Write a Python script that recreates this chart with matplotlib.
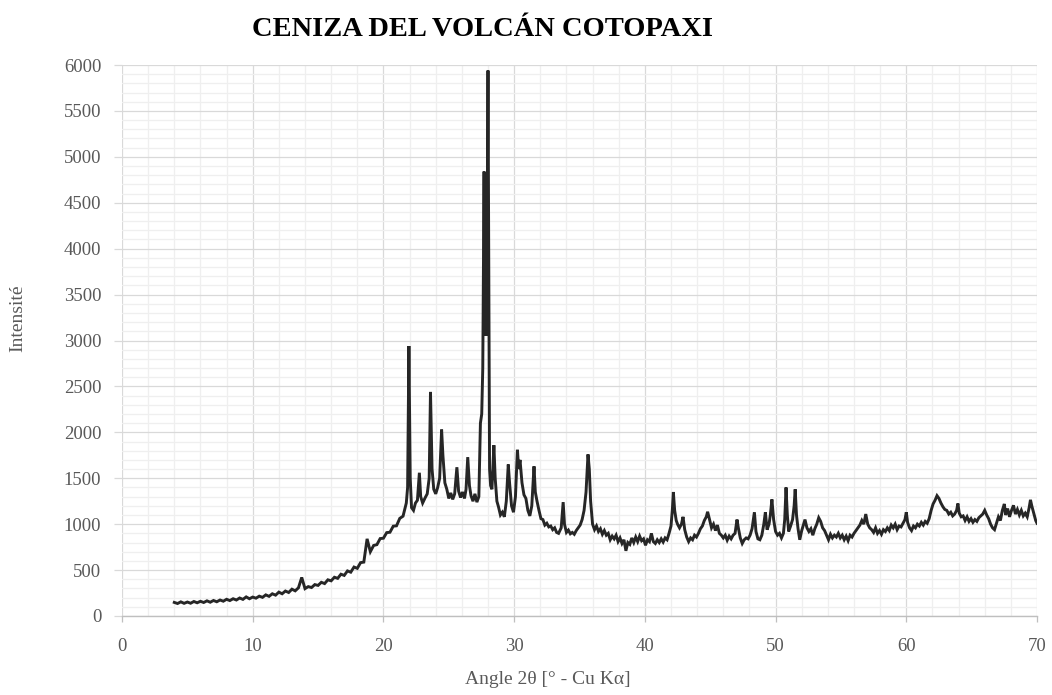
#!/usr/bin/env python3
"""XRD pattern of Cotopaxi volcanic ash (2theta, Cu K-alpha)."""

import matplotlib.pyplot as plt
from matplotlib.ticker import MultipleLocator

# (2theta, counts), split by region
low_angle = [
    (4.00, 148), (4.25, 136), (4.50, 154), (4.75, 138), (5.00, 152), (5.25, 139),
    (5.50, 158), (5.75, 144), (6.00, 160), (6.25, 147), (6.50, 165), (6.75, 150),
    (7.00, 169), (7.25, 155), (7.50, 174), (7.75, 161), (8.00, 182), (8.25, 168),
    (8.50, 188), (8.75, 174), (9.00, 196), (9.25, 181), (9.50, 208), (9.75, 188),
    (10.00, 206), (10.25, 194), (10.50, 216), (10.75, 203), (11.00, 230), (11.25, 214),
    (11.50, 242), (11.75, 227), (12.00, 260), (12.25, 242), (12.50, 272), (12.75, 256),
    (13.00, 292), (13.25, 274), (13.50, 307), (13.75, 420), (14.00, 298), (14.25, 320),
    (14.50, 310), (14.75, 342), (15.00, 333), (15.25, 367), (15.50, 353), (15.75, 394),
    (16.00, 383), (16.25, 422), (16.50, 410), (16.75, 455), (17.00, 442), (17.25, 491),
    (17.50, 477), (17.75, 533), (18.00, 519), (18.25, 581), (18.50, 587), (18.75, 840),
    (19.00, 700), (19.25, 768), (19.50, 777), (19.75, 843), (20.00, 847), (20.25, 908),
    (20.50, 912), (20.75, 978), (21.00, 982), (21.25, 1063), (21.50, 1087), (21.75, 1230),
]

main_peaks = [
    (21.85, 1400), (21.95, 2940), (22.05, 1500), (22.15, 1180), (22.30, 1150), (22.45, 1230),
    (22.60, 1260), (22.75, 1560), (22.85, 1300), (23.00, 1230), (23.20, 1290), (23.35, 1330),
    (23.50, 1500), (23.60, 2440), (23.72, 1600), (23.85, 1380), (24.00, 1330), (24.15, 1400),
    (24.30, 1500), (24.45, 2030), (24.55, 1750), (24.70, 1450), (24.85, 1380), (25.00, 1280),
    (25.15, 1340), (25.30, 1270), (25.45, 1330), (25.62, 1620), (25.75, 1360), (25.90, 1290),
    (26.05, 1350), (26.20, 1280), (26.32, 1380), (26.45, 1730), (26.58, 1420), (26.70, 1310),
    (26.85, 1250), (27.00, 1330), (27.15, 1240), (27.30, 1300), (27.42, 2100), (27.52, 2200),
    (27.60, 2700), (27.70, 4840), (27.75, 3200), (27.80, 4550), (27.85, 3050), (27.90, 3600),
    (27.95, 4500), (28.00, 5940), (28.07, 3400), (28.12, 1600), (28.20, 1420), (28.30, 1380),
    (28.45, 1860), (28.55, 1500), (28.68, 1250), (28.80, 1190), (28.95, 1100), (29.10, 1130),
    (29.25, 1080), (29.40, 1250), (29.55, 1650), (29.65, 1450), (29.80, 1200), (29.95, 1130),
    (30.10, 1300), (30.25, 1810), (30.35, 1600), (30.45, 1700), (30.60, 1450), (30.75, 1320),
    (30.90, 1280), (31.05, 1150), (31.20, 1090), (31.35, 1200), (31.52, 1630), (31.62, 1350),
    (31.75, 1250), (31.90, 1150), (32.05, 1060), (32.20, 1050), (32.35, 990), (32.50, 1010),
    (32.65, 970), (32.80, 980), (32.95, 940), (33.10, 960), (33.25, 910), (33.40, 900),
    (33.60, 960), (33.75, 1240), (33.85, 1000), (34.00, 910), (34.15, 935), (34.30, 895),
    (34.45, 910), (34.60, 890), (34.75, 930), (34.90, 960), (35.05, 990), (35.20, 1050),
    (35.35, 1150), (35.50, 1350), (35.65, 1760), (35.75, 1600), (35.85, 1250), (36.00, 1000),
]

mid_angle = [
    (36.15, 940), (36.30, 980), (36.45, 920), (36.60, 950), (36.75, 890), (36.90, 930),
    (37.05, 880), (37.20, 900), (37.35, 830), (37.50, 870), (37.65, 840), (37.80, 880),
    (37.95, 810), (38.10, 850), (38.25, 790), (38.40, 830), (38.55, 710), (38.70, 800),
    (38.85, 780), (39.00, 850), (39.15, 800), (39.30, 860), (39.45, 810), (39.60, 870),
    (39.75, 820), (39.90, 840), (40.05, 770), (40.20, 830), (40.35, 810), (40.50, 900),
    (40.65, 810), (40.80, 790), (40.95, 830), (41.10, 800), (41.25, 840), (41.40, 805),
    (41.55, 850), (41.70, 830), (41.85, 900), (42.00, 980), (42.10, 1150), (42.18, 1350),
    (42.28, 1150), (42.40, 1040), (42.50, 1000), (42.65, 960), (42.80, 1000), (42.92, 1080),
    (43.05, 940), (43.20, 860), (43.35, 810), (43.50, 850), (43.65, 830), (43.80, 880),
    (43.95, 860), (44.10, 900), (44.25, 950), (44.40, 980), (44.55, 1040), (44.70, 1080),
    (44.80, 1135), (44.95, 1050), (45.10, 960), (45.25, 1000), (45.40, 930), (45.55, 990),
    (45.70, 900), (45.85, 880), (46.00, 850), (46.15, 880), (46.30, 825), (46.45, 870),
    (46.60, 840), (46.75, 880), (46.90, 900), (47.05, 1050), (47.15, 960), (47.30, 850),
    (47.45, 790), (47.60, 830), (47.75, 850), (47.90, 840), (48.05, 880), (48.20, 950),
    (48.38, 1130), (48.50, 920), (48.65, 840), (48.80, 830), (48.95, 880), (49.10, 1000),
    (49.22, 1130), (49.35, 940), (49.50, 1000), (49.60, 1100), (49.72, 1270), (49.85, 1050),
    (50.00, 920), (50.15, 880), (50.30, 900), (50.45, 850), (50.60, 900), (50.70, 1050),
    (50.80, 1400), (50.90, 1100), (51.00, 920), (51.15, 980), (51.30, 1050), (51.42, 1200),
    (51.50, 1380), (51.60, 1100), (51.72, 950), (51.85, 830), (52.00, 930), (52.15, 1000),
    (52.25, 1050), (52.40, 960), (52.55, 920), (52.70, 950), (52.85, 880), (53.00, 950),
]

high_angle = [
    (53.15, 1000), (53.30, 1070), (53.45, 1030), (53.60, 960), (53.75, 930), (53.90, 880),
    (54.05, 830), (54.20, 890), (54.35, 850), (54.50, 880), (54.65, 860), (54.80, 900),
    (54.95, 850), (55.10, 880), (55.25, 830), (55.40, 870), (55.55, 820), (55.70, 880),
    (55.85, 860), (56.00, 900), (56.15, 930), (56.30, 960), (56.45, 990), (56.60, 1040),
    (56.75, 1000), (56.90, 1110), (57.05, 1000), (57.20, 960), (57.35, 940), (57.50, 910),
    (57.65, 960), (57.80, 900), (57.95, 930), (58.10, 890), (58.25, 940), (58.40, 920),
    (58.55, 960), (58.70, 930), (58.85, 990), (59.00, 960), (59.15, 1000), (59.30, 940),
    (59.45, 980), (59.60, 970), (59.75, 1010), (59.90, 1050), (60.00, 1130), (60.10, 1020),
    (60.25, 960), (60.40, 930), (60.55, 980), (60.70, 960), (60.85, 1000), (61.00, 980),
    (61.15, 1020), (61.30, 990), (61.45, 1030), (61.60, 1010), (61.75, 1060), (61.90, 1150),
    (62.05, 1220), (62.20, 1260), (62.35, 1310), (62.50, 1280), (62.65, 1230), (62.80, 1190),
    (62.95, 1160), (63.10, 1150), (63.25, 1110), (63.40, 1130), (63.55, 1090), (63.70, 1110),
    (63.85, 1150), (63.95, 1225), (64.05, 1120), (64.20, 1080), (64.35, 1090), (64.50, 1040),
    (64.65, 1080), (64.80, 1030), (64.95, 1060), (65.10, 1020), (65.25, 1050), (65.40, 1030),
    (65.55, 1070), (65.70, 1090), (65.85, 1110), (66.00, 1150), (66.15, 1100), (66.30, 1060),
    (66.45, 1000), (66.60, 960), (66.75, 940), (66.90, 1010), (67.05, 1080), (67.20, 1040),
    (67.35, 1150), (67.50, 1220), (67.60, 1100), (67.75, 1170), (67.90, 1080), (68.05, 1150),
    (68.20, 1205), (68.35, 1110), (68.50, 1160), (68.65, 1100), (68.80, 1150), (68.95, 1090),
    (69.10, 1120), (69.25, 1080), (69.40, 1180), (69.50, 1265), (69.60, 1200), (69.75, 1120),
    (69.90, 1040), (70.00, 1010),
]

x_ticks = [0, 10, 20, 30, 40, 50, 60, 70]
y_ticks = [0, 500, 1000, 1500, 2000, 2500, 3000, 3500, 4000, 4500, 5000, 5500, 6000]

GREY = '#595959'
SERIF = 'Liberation Serif'


def main():
    plt.rcParams['font.family'] = SERIF
    fig = plt.figure(figsize=(10.52, 6.95), dpi=100)
    ax = fig.add_axes([122 / 1052, 1 - 616 / 695, 915 / 1052, 551 / 695])

    pts = low_angle + main_peaks + mid_angle + high_angle
    tt, counts = zip(*pts)
    ax.plot(tt, counts, color='#262626', lw=2.1, solid_joinstyle='miter', zorder=3)

    ax.set_xlim(0, 70)
    ax.set_ylim(0, 6000)
    ax.set_xticks(x_ticks)
    ax.set_yticks(y_ticks)
    ax.xaxis.set_minor_locator(MultipleLocator(2))
    ax.yaxis.set_minor_locator(MultipleLocator(100))

    ax.grid(which='major', color='#d9d9d9', lw=0.9, zorder=1)
    ax.grid(which='minor', color='#efefef', lw=0.9, zorder=0)
    ax.set_axisbelow(True)

    for side in ('top', 'right', 'left'):
        ax.spines[side].set_visible(False)
    ax.spines['bottom'].set_color('#bfbfbf')
    ax.spines['bottom'].set_linewidth(1.0)

    ax.tick_params(axis='x', which='major', length=4, width=0.9, color='#bfbfbf',
                   pad=12, labelsize=13.5, labelcolor=GREY)
    ax.tick_params(axis='y', which='major', length=6, width=0.9, color='#d9d9d9',
                   pad=9, labelsize=13.5, labelcolor=GREY)
    ax.tick_params(which='minor', length=0)

    fig.text(483 / 1052, 1 - 30 / 695, 'CENIZA DEL VOLCÁN COTOPAXI', ha='center', va='center',
             fontsize=20.5, fontweight='bold', color='black')
    fig.text(18 / 1052, 1 - 318 / 695, 'Intensité', rotation=90, ha='center', va='center',
             fontsize=14, color=GREY)
    fig.text(548 / 1052, 1 - 680 / 695, 'Angle 2θ [° - Cu Kα]', ha='center', va='center',
             fontsize=14, color=GREY)

    fig.savefig('out.png', dpi=100)


if __name__ == "__main__":
    main()
